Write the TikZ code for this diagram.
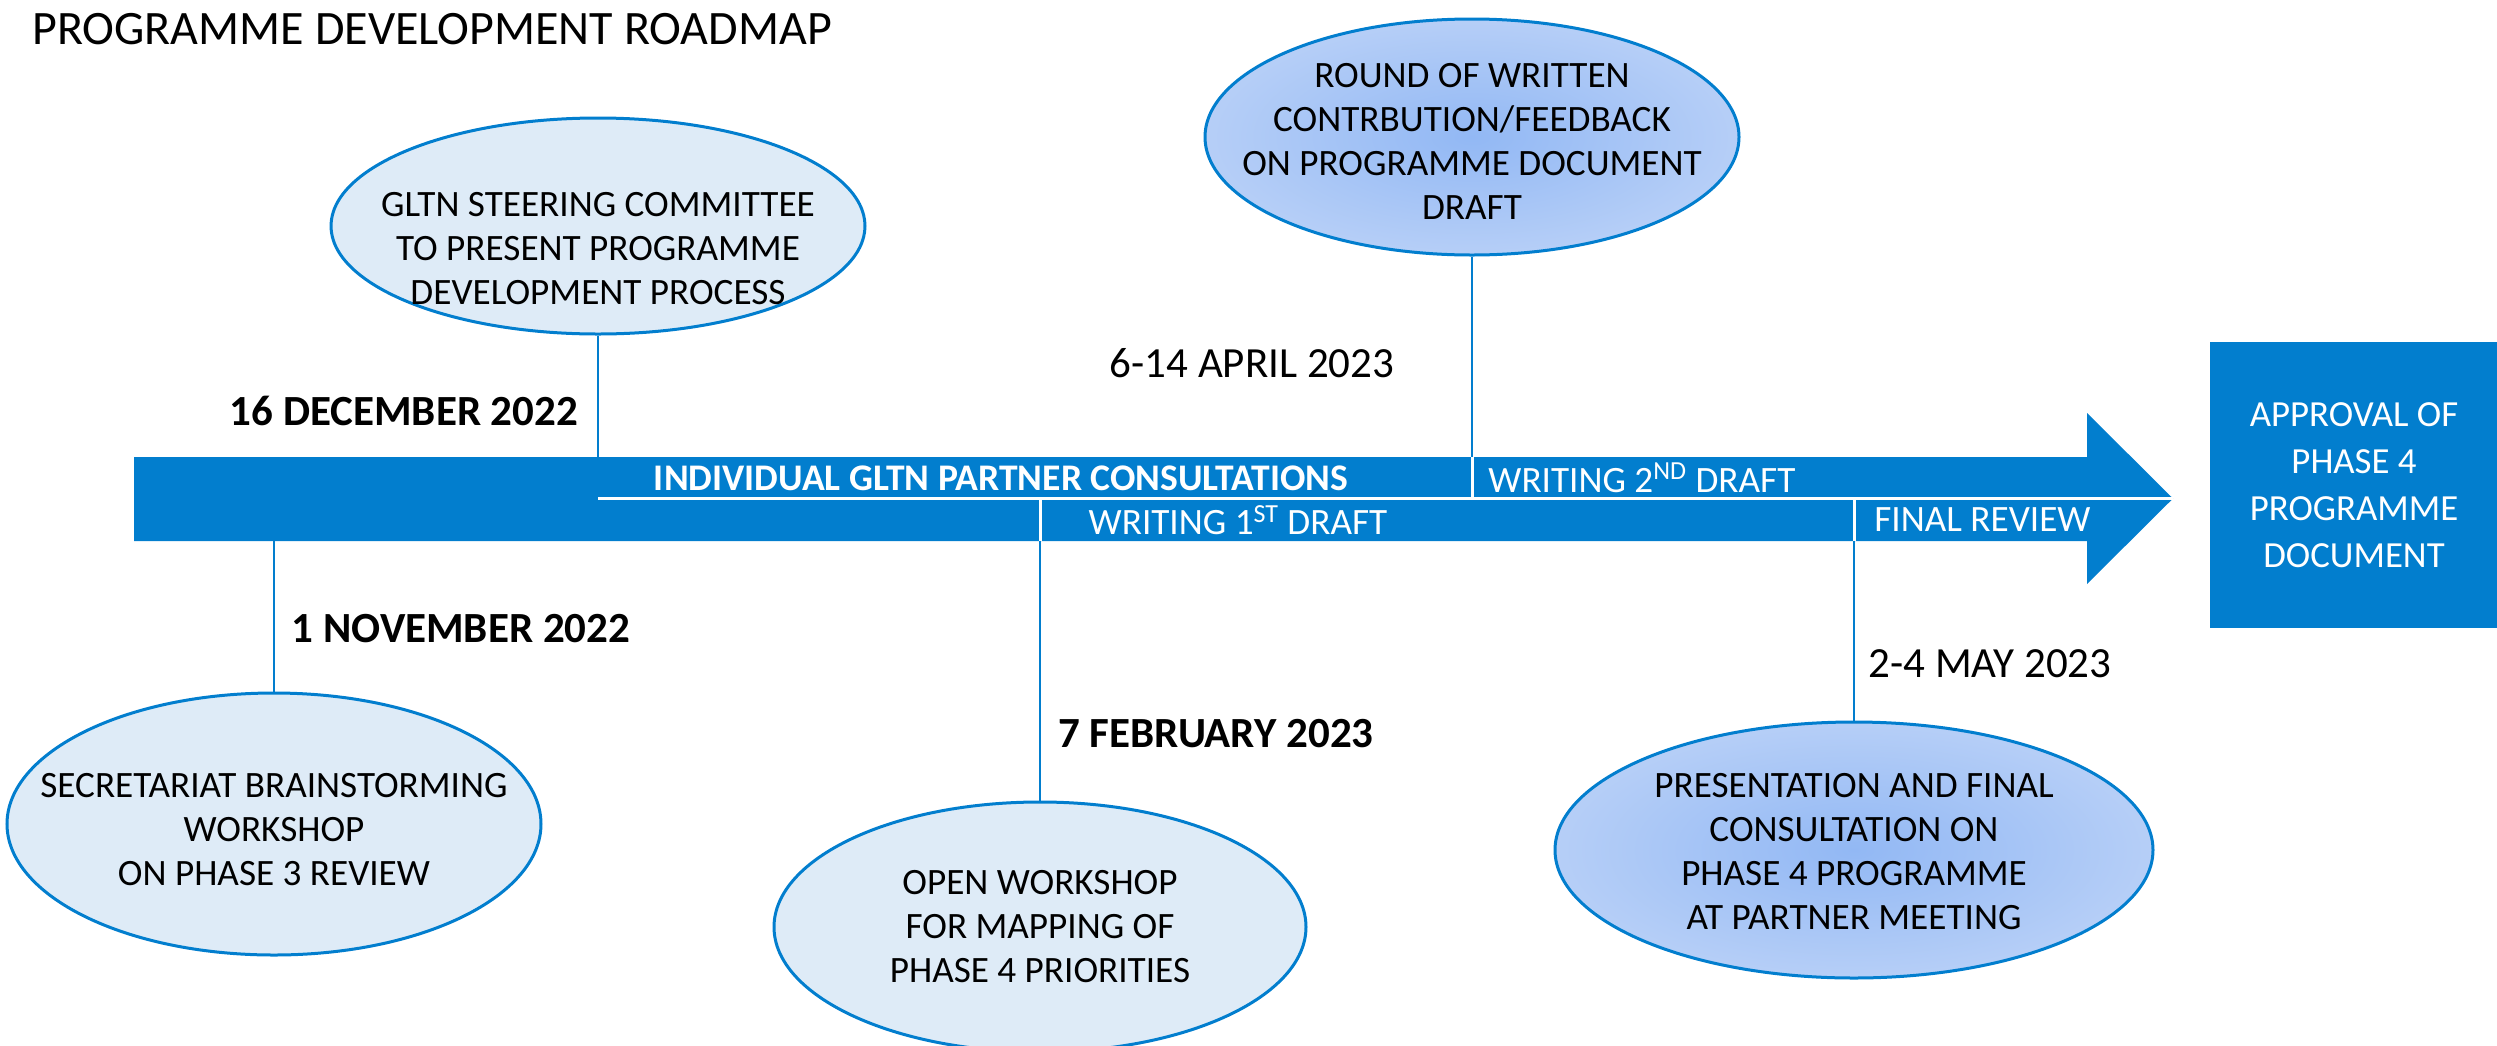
\documentclass[tikz,border=0pt]{standalone}
\usepackage{fontspec}
\setmainfont{Carlito}
\usetikzlibrary{shapes.geometric,positioning}

\definecolor{roadblue}{RGB}{2,126,206}
\definecolor{palefill}{RGB}{222,235,247}
\definecolor{glowin}{RGB}{146,184,244}
\definecolor{glowout}{RGB}{218,229,250}

\pgfdeclareradialshading{eventglow}{\pgfpoint{0bp}{0bp}}{%
  color(0bp)=(glowin); color(50bp)=(glowout); color(72bp)=(glowout)}

\tikzset{
  event/.style={ellipse, draw=roadblue, line width=1.5pt, fill=palefill, inner sep=0pt},
  glow/.style={event, shading=eventglow},
  eventtext/.style={align=center, inner sep=0pt, font=\fontsize{18.6}{22}\selectfont},
  datelabel/.style={inner sep=0pt, font=\fontsize{21.5}{24}\selectfont},
  boldlabel/.style={datelabel, font=\bfseries\fontsize{21.5}{24}\selectfont},
  barlabel/.style={inner sep=0pt, text=white, font=\fontsize{18.6}{22}\selectfont},
  link/.style={draw=roadblue, line width=1.2pt},
  split/.style={draw=white, line width=1.5pt},
}

\begin{document}
\begin{tikzpicture}[x=0.5pt, y=-0.5pt]
  \useasboundingbox (0,0) rectangle (2497,1045);

  % levels of the timeline bar
  \coordinate (barTop) at (0,457);
  \coordinate (barMid) at (0,498.5);
  \coordinate (barBot) at (0,541);
  \coordinate (tip) at (2173,498.5);

  \node[inner sep=0pt, anchor=west, font=\fontsize{24}{28}\selectfont] (title) at (32,29)
    {PROGRAMME DEVELOPMENT ROADMAP};

  % the arrow
  \fill[roadblue] (134,457) -- (2087,457) -- (2087,413) -- (tip)
    -- (2087,584) -- (2087,541) -- (134,541) -- cycle;

  % events above the bar
  \node[event, minimum width=267pt, minimum height=108pt] (steer) at (598,226) {};
  \node[eventtext] (steerText) at (598,249)
    {GLTN STEERING COMMITTEE\\TO PRESENT PROGRAMME\\DEVELOPMENT PROCESS};
  \node[glow, minimum width=267pt, minimum height=118pt] (round) at (1472,137) {};
  \node[eventtext] (roundText) at (1472,141)
    {ROUND OF WRITTEN\\CONTRBUTION/FEEDBACK\\ON PROGRAMME DOCUMENT\\DRAFT};

  % events below the bar
  \node[event, minimum width=267pt, minimum height=131pt] (secr) at (274,824) {};
  \node[eventtext] (secrText) at (274,830)
    {SECRETARIAT BRAINSTORMING\\WORKSHOP\\ON PHASE 3 REVIEW};
  \node[event, minimum width=266pt, minimum height=125pt] (open) at (1040,927) {};
  \node[eventtext] (openText) at (1040,927)
    {OPEN WORKSHOP\\FOR MAPPING OF\\PHASE 4 PRIORITIES};
  \node[glow, minimum width=299pt, minimum height=128pt] (pres) at (1854,850) {};
  \node[eventtext] (presText) at (1854,852)
    {PRESENTATION AND FINAL\\CONSULTATION ON\\PHASE 4 PROGRAMME\\AT PARTNER MEETING};

  \node[fill=roadblue, text=white, align=center, inner sep=0pt,
    minimum width=144pt, minimum height=143pt,
    font=\fontsize{18.4}{23.5}\selectfont] (approval) at (2354,485)
    {APPROVAL OF\\PHASE 4\\PROGRAMME\\DOCUMENT};

  % connectors
  \draw[link] (steer.south) -- (steer.south |- barTop);
  \draw[link] (round.south) -- (round.south |- barTop);
  \draw[link] (secr.north) -- (secr.north |- barBot);
  \draw[link] (open.north) -- (open.north |- barBot);
  \draw[link] (pres.north) -- (pres.north |- barBot);

  % white splits inside the bar
  \draw[split] (steer.south |- barMid) -- (tip);
  \draw[split] (round.south |- barTop) -- (round.south |- barMid);
  \draw[split] (open.north |- barMid) -- (open.north |- barBot);
  \draw[split] (pres.north |- barMid) -- (pres.north |- barBot);

  % dates
  \node[boldlabel] (dec) at (404,411) {16 DECEMBER 2022};
  \node[datelabel] (apr) at (1252,363) {6-14 APRIL 2023};
  \node[boldlabel] (nov) at (461,629) {1 NOVEMBER 2022};
  \node[boldlabel] (feb) at (1216,734) {7 FEBRUARY 2023};
  \node[datelabel] (may) at (1990,664) {2-4 MAY 2023};

  % phases on the bar
  \node[barlabel, font=\bfseries\fontsize{18.8}{22}\selectfont] (consult) at (1001,478)
    {INDIVIDUAL GLTN PARTNER CONSULTATIONS};
  \node[barlabel, anchor=west] (draft2) at (1488,478) {WRITING 2\textsuperscript{ND} DRAFT};
  \node[barlabel] (draft1) at (1238,520) {WRITING 1\textsuperscript{ST} DRAFT};
  \node[barlabel, anchor=west] (review) at (1874,520) {FINAL REVIEW};
\end{tikzpicture}
\end{document}
